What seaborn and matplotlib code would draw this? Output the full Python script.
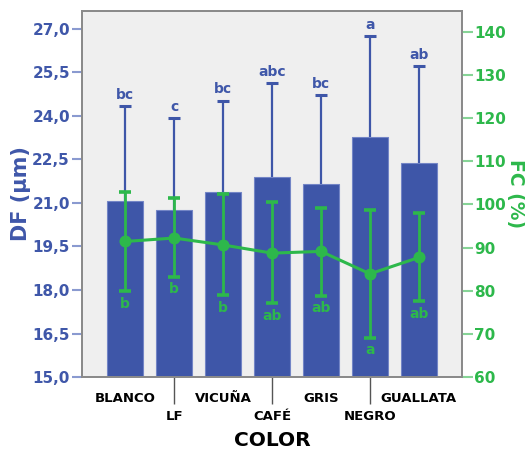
import numpy as np
import pandas as pd
import matplotlib
matplotlib.use("Agg")
import matplotlib.pyplot as plt
import seaborn as sns

# ---------------- data ----------------
colors = ["BLANCO", "LF", "VICUÑA", "CAFÉ", "GRIS", "NEGRO", "GUALLATA"]
df_mean = [21.07, 20.75, 21.39, 21.91, 21.66, 23.29, 22.37]
df_upper = [24.35, 23.93, 24.53, 25.13, 24.71, 26.76, 25.72]
df_letters = ["bc", "c", "bc", "abc", "bc", "a", "ab"]
fc_mean = [91.4, 92.2, 90.6, 88.7, 89.1, 83.9, 87.7]
fc_upper = [102.8, 101.4, 102.3, 100.6, 99.1, 98.8, 98.1]
fc_lower = [79.9, 83.2, 79.0, 77.1, 78.8, 69.1, 77.6]
fc_letters = ["b", "b", "b", "ab", "ab", "a", "ab"]
df_ticks = [15.0, 16.5, 18.0, 19.5, 21.0, 22.5, 24.0, 25.5, 27.0]
fc_ticks = [60, 70, 80, 90, 100, 110, 120, 130, 140]

BLUE = "#3E56A8"
BLUE_TXT = "#3F57A9"
BLUE_TICK = "#8A9AD0"
GREEN = "#2DB84B"
GREEN_TICK = "#86D496"
BG = "#EFEFEF"
FRAME = "#8A8A8A"

sns.set_style("white")
plt.rcParams["font.family"] = ["DejaVu Sans"]
plt.rcParams["font.weight"] = "bold"

data = pd.DataFrame({"COLOR": colors, "DF": df_mean, "FC": fc_mean})
pos = np.arange(len(colors))

fig = plt.figure(figsize=(5.25, 4.57), dpi=100)
ax = fig.add_axes([0.1562, 0.175, 0.7238, 0.801])
ax.set_facecolor(BG)

sns.barplot(data=data, x="COLOR", y="DF", ax=ax, color=BLUE, saturation=1,
            width=0.75, errorbar=None, edgecolor="#7385C6", linewidth=0.8,
            zorder=2)
ax.errorbar(pos, df_mean, yerr=np.array(df_upper) - np.array(df_mean),
            fmt="none", ecolor=BLUE, elinewidth=1.6, capsize=4.5,
            capthick=2.2, zorder=1.5)
for i, (u, t) in enumerate(zip(df_upper, df_letters)):
    ax.annotate(t, xy=(i, u), xytext=(0, 3), textcoords="offset points",
                ha="center", va="bottom", color=BLUE_TXT, fontsize=10,
                fontweight="bold")

ax2 = ax.twinx()
sns.pointplot(data=data, x="COLOR", y="FC", ax=ax2, color=GREEN,
              errorbar=None, markers="o", markersize=7, linewidth=2.2)
ax2.errorbar(pos, fc_mean,
             yerr=[np.array(fc_mean) - np.array(fc_lower),
                   np.array(fc_upper) - np.array(fc_mean)],
             fmt="none", ecolor=GREEN, elinewidth=2.0, capsize=4.5,
             capthick=2.6)
for i, (l, t) in enumerate(zip(fc_lower, fc_letters)):
    ax2.annotate(t, xy=(i, l), xytext=(0, -4), textcoords="offset points",
                 ha="center", va="top", color=GREEN, fontsize=10,
                 fontweight="bold")

# limits
ax.set_xlim(-0.88, len(colors) - 1 + 0.88)
ax.set_ylim(15.0, 27.62)
ax2.set_ylim(60, 144.8)

# y ticks
ax.set_yticks(df_ticks, labels=[f"{v:.1f}".replace(".", ",") for v in df_ticks])
ax.tick_params(axis="y", which="major", length=7.2, width=1.5,
               color=BLUE_TICK, labelcolor=BLUE_TXT, labelsize=11, pad=1.5)
ax2.set_yticks(fc_ticks, labels=[str(v) for v in fc_ticks])
ax2.tick_params(axis="y", which="major", length=7.6, width=1.5,
                color=GREEN_TICK, labelcolor=GREEN, labelsize=11, pad=1.2)
for lab in ax.get_yticklabels() + ax2.get_yticklabels():
    lab.set_fontweight("bold")

# x ticks: staggered labels
ax.set_xticks(pos[::2], labels=colors[::2])
ax.set_xticks(pos[1::2], labels=colors[1::2], minor=True)
ax.tick_params(axis="x", which="major", length=6.5, width=1.0,
               color="#555555", labelcolor="black", labelsize=9.5, pad=4.5)
ax.tick_params(axis="x", which="minor", length=19.5, width=1.0,
               color="#555555", labelcolor="black", labelsize=9.5, pad=4.0,
               bottom=True)
for lab in ax.get_xticklabels() + ax.get_xticklabels(minor=True):
    lab.set_fontweight("bold")

# labels
ax.set_xlabel("COLOR", fontsize=14.5, fontweight="bold", color="black",
              labelpad=6)
ax.set_ylabel("DF (µm)", fontsize=15, fontweight="bold", color=BLUE_TXT,
              labelpad=1)
ax2.set_ylabel("FC (%)", fontsize=13.5, fontweight="bold", color=GREEN,
               rotation=-90, va="bottom", labelpad=0)

for a in (ax, ax2):
    for s in a.spines.values():
        s.set_color(FRAME)
        s.set_linewidth(1.3)
ax.grid(False)
ax2.grid(False)

fig.savefig("out.png", dpi=100)
